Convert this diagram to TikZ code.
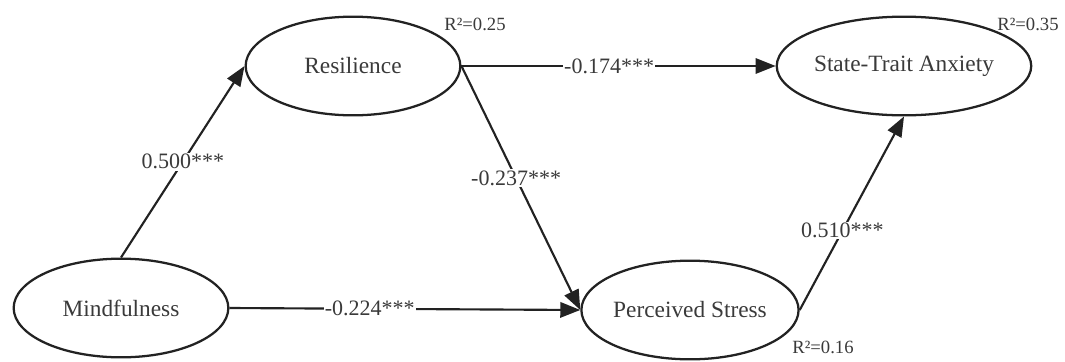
\documentclass[tikz,border=0pt]{standalone}
\usepackage{fontspec}
\setmainfont{Liberation Serif}
\usetikzlibrary{shapes.geometric,arrows.meta}
\definecolor{inkline}{HTML}{222222}
\definecolor{inktext}{HTML}{3A3A3A}

\begin{document}
\begin{tikzpicture}[x=0.75pt, y=-0.75pt,
	construct/.style={ellipse, draw=inkline, line width=1.7pt, minimum width=161pt, minimum height=74pt, inner sep=0pt, font=\fontsize{17.5}{20}\selectfont, text=inktext},
	effect/.style={draw=inkline, line width=1.6pt, -{Triangle[length=15pt, width=11.5pt]}},
	coef/.style={fill=white, inner sep=1pt, font=\fontsize{16.5}{19}\selectfont, text=inktext},
	rsq/.style={inner sep=0pt, font=\fontsize{14}{16}\selectfont, text=inktext}]
	\useasboundingbox (0, 0) rectangle (1065, 361);
	\node[construct](MF) at (121, 308){Mindfulness};
	\node[construct](RS) at (353, 66){Resilience};
	\node[construct](PS) at (690, 310){Perceived Stress};
	\node[construct](SA) at (904, 66){State-Trait Anxiety};
	\node[rsq](R1) at (475, 24){R²=0.25};
	\node[rsq](R2) at (1028, 24){R²=0.35};
	\node[rsq](R3) at (823, 347){R²=0.16};
	\draw[effect] (MF.north) -- node[coef, pos=0.5]{0.500***} (RS.west);
	\draw[effect] (MF.east) -- node[coef, pos=0.4]{-0.224***} (PS.west);
	\draw[effect] (RS.east) -- node[coef, pos=0.47]{-0.174***} (SA.west);
	\draw[effect] (RS.east) -- node[coef, pos=0.46]{-0.237***} (PS.west);
	\draw[effect] (PS.east) -- node[coef, pos=0.41]{0.510***} (SA.south);
\end{tikzpicture}
\end{document}
